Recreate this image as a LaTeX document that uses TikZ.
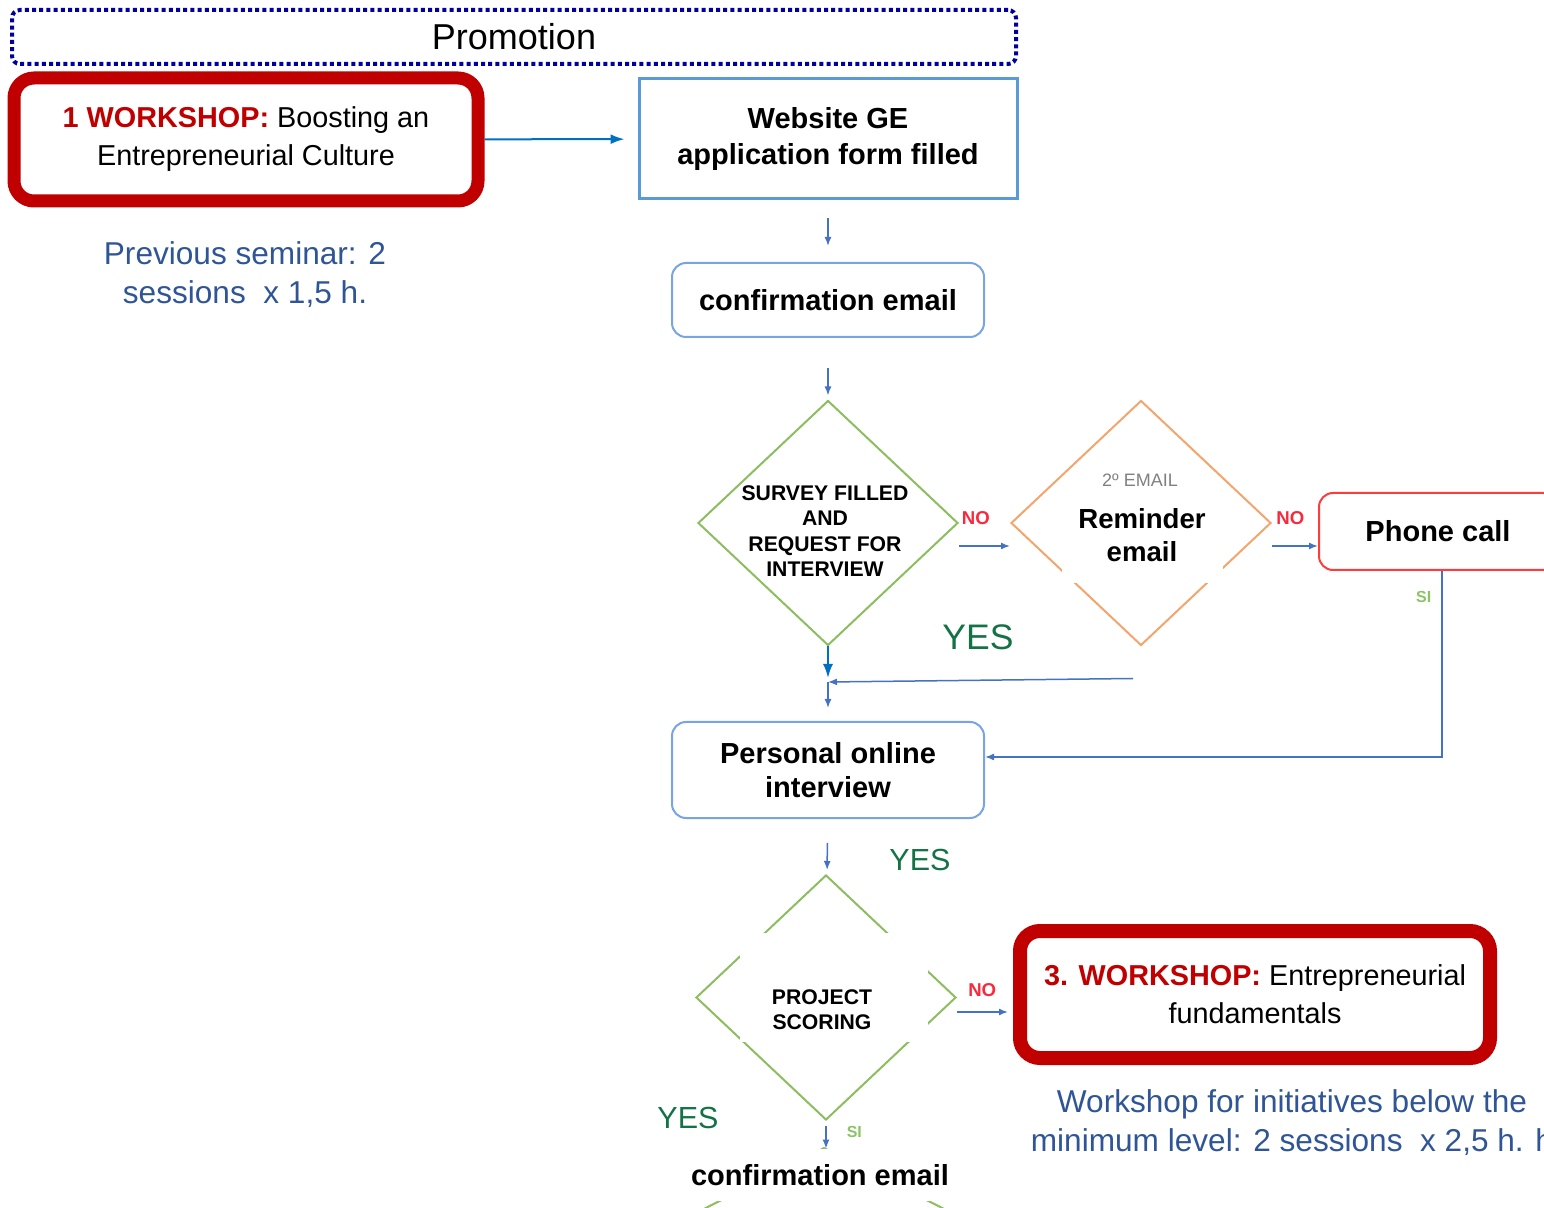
\documentclass[tikz,border=0pt]{standalone}
\usepackage{fontspec}
\setmainfont{Liberation Sans}
\usepackage{tikz}
\usetikzlibrary{arrows.meta,positioning,calc,shapes.geometric}
\definecolor{wsred}{RGB}{192,0,0}
\definecolor{navydot}{RGB}{0,0,160}
\definecolor{boxblue}{RGB}{91,155,213}
\definecolor{lightblue}{RGB}{120,165,225}
\definecolor{flowblue}{RGB}{68,114,196}
\definecolor{darkblue}{RGB}{0,112,192}
\definecolor{diagreen}{RGB}{140,190,95}
\definecolor{diaorange}{RGB}{244,165,110}
\definecolor{phonered}{RGB}{255,60,60}
\definecolor{nored}{RGB}{250,40,60}
\definecolor{sigreen}{RGB}{140,195,100}
\definecolor{yesgreen}{RGB}{20,115,70}
\definecolor{notetext}{RGB}{47,85,151}
\newcommand{\fsz}[2]{\fontsize{#1}{#2}\selectfont}

\begin{document}
\begin{tikzpicture}[x=0.5pt, y=-0.5pt,
  workshop/.style={rectangle, rounded corners=10pt, draw=wsred, line width=6.5pt,
    minimum width=232pt, minimum height=61.5pt, align=center, font=\fsz{14.4}{19}},
  process/.style={rectangle, rounded corners=7pt, draw=lightblue, line width=1pt,
    minimum width=156pt, align=center, font=\bfseries\fsz{14.5}{17}},
  decision/.style={diamond, draw=diagreen, line width=1pt, minimum width=130pt,
    minimum height=122.5pt, inner sep=0pt},
  caps/.style={align=center, font=\bfseries\fsz{10.6}{12.75}},
  mask/.style={fill=white, inner sep=0pt, align=center},
  flow/.style={draw=flowblue, line width=0.75pt, -{Latex[length=4.5pt,width=3.5pt]}},
  mainflow/.style={draw=darkblue, line width=1pt, -{Latex[length=7pt,width=5pt]}},
  nolabel/.style={text=nored, font=\bfseries\fsz{9.3}{11}, inner sep=0pt},
  silabel/.style={text=sigreen, font=\bfseries\fsz{8}{10}, inner sep=0pt},
  yeslabel/.style={text=yesgreen, font=\fsz{15.25}{18}},
  note/.style={text=notetext, align=center, font=\fsz{15.8}{19.5}}]
  \useasboundingbox (0,0) rectangle (1544,1208);
  \clip (0,0) rectangle (1544,1208);

  \node (promo) [rectangle, rounded corners=4pt, draw=navydot, line width=2pt,
    dash pattern=on 2pt off 1.6pt, minimum width=502pt, minimum height=27pt,
    font=\fsz{18}{20}] at (514,37) {Promotion};

  \node (ws1) [workshop] at (246,139.5)
    {\textbf{\textcolor{wsred}{1 WORKSHOP:}} Boosting an\\Entrepreneurial Culture};
  \node (web) [rectangle, draw=boxblue, line width=1.5pt, minimum width=189pt,
    minimum height=60pt, align=center, font=\bfseries\fsz{14.5}{18}] at (828,139)
    {\raisebox{-2pt}{Website GE}\\\raisebox{-2pt}{application form filled}};
  \node (seminar) [note] at (245,275) {Previous seminar: 2\\sessions\ \ x 1,5 h.};

  \node (confirm) [process, minimum height=37pt] at (828,300) {confirmation email};

  \node (survey) [decision] at (828,523) {};
  \node (surveytext) [caps] at (825,531) {SURVEY FILLED\\AND\\REQUEST FOR\\INTERVIEW};

  \node (remind) [decision, draw=diaorange] at (1141,523) {};
  \node (second) [font=\fsz{9}{10}, text=black!50] at (1140,480) {2º EMAIL};
  \node (remindtext) [mask, minimum width=80.5pt, minimum height=47.5pt,
    font=\bfseries\fsz{13.8}{16.5}] at (1142,535.5) {Reminder\\email};

  \node (phone) [process, draw=phonered, minimum width=119pt, minimum height=38.5pt]
    at (1438,531.5) {Phone call};

  \node (yes1) [yeslabel, font=\fsz{17.75}{20}] at (978,637) {YES};
  \coordinate (merge) at (828,682);

  \node (interview) [process, minimum height=48pt] at (828,770) {Personal online\\interview};
  \node (yes2) [yeslabel] at (920,860) {YES};

  \node (scoring) [decision] at (826,997.5) {};
  \node (scoremask) [mask, minimum width=94pt, minimum height=54.5pt] at (834,987.5) {};
  \node (scoretext) [caps] at (822,1009.5) {PROJECT\\SCORING};

  \node (ws3) [workshop, line width=7pt, minimum width=235pt, minimum height=63.5pt]
    at (1255,994.5) {\textbf{\textcolor{wsred}{3. WORKSHOP:}} Entrepreneurial\\fundamentals};
  \node (minlevel) [note] at (1292,1123)
    {Workshop for initiatives below the\\minimum level: 2 sessions\ \ x 2,5 h. h};

  \node (yes3) [yeslabel] at (688,1118) {YES};

  % next decision, mostly hidden
  \draw [diagreen, line width=1pt] (623,1250) -- (824,1148) -- (1025,1250);
  \node (confirm2) [mask, minimum width=102pt, minimum height=26pt,
    font=\bfseries\fsz{14.5}{17}] at (820,1175) {confirmation email};

  % connectors
  \draw [mainflow, shorten >=6.5pt] (ws1) -- (web);
  \draw [flow, shorten <=9pt, shorten >=8pt] (web) -- (confirm);
  \draw [flow, shorten <=15pt, shorten >=2pt] (confirm) -- (survey);
  \draw [flow] ([yshift=-11.5pt]survey.east) --
    node [nolabel, pos=0.33, yshift=14pt] {NO} ([yshift=-11.5pt]remind.west);
  \draw [flow] ([yshift=-11.5pt]remind.east) --
    node [nolabel, pos=0.4, yshift=14pt] {NO} ([yshift=-11.5pt]remind.east -| phone.west);
  \draw [mainflow] (survey.south) -- ([yshift=2pt]merge);
  \draw [flow] ([xshift=-4pt,yshift=-16pt]remind.south) -- (merge);
  \draw [flow, shorten >=6.5pt] (merge) -- (interview);
  \draw [flow] ([xshift=2pt]phone.south) |-
    node [silabel, pos=0.07, left=5pt] {SI} ([yshift=6.5pt]interview.east);
  \draw [flow, shorten <=12pt, shorten >=2.5pt] (interview) -- (scoring);
  \draw [flow, shorten >=2.5pt] ([yshift=-7.25pt]scoring.east) --
    node [nolabel, pos=0.45, yshift=11pt] {NO} ([yshift=-7.25pt]scoring.east -| ws3.west);
  \draw [flow, shorten <=2.5pt] (scoring.south) --
    node [silabel, pos=0.4, right=10pt] {SI} (scoring.south |- confirm2.north);
\end{tikzpicture}
\end{document}
